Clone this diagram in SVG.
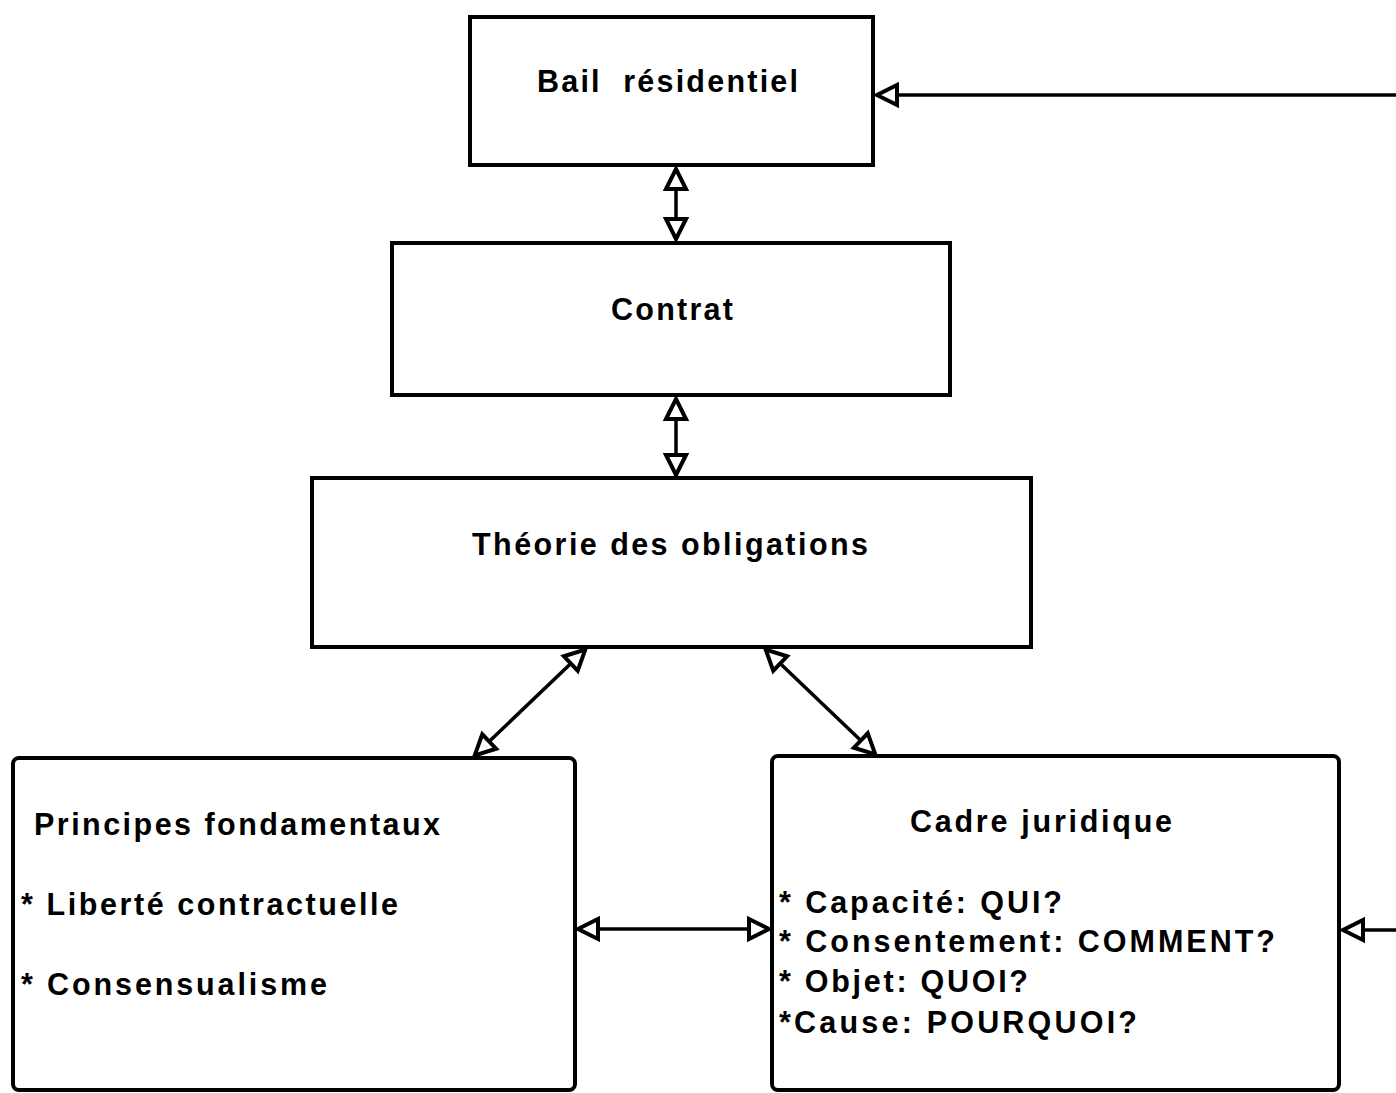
<svg xmlns="http://www.w3.org/2000/svg" width="1396" height="1093" viewBox="0 0 1396 1093">
  <style>
    .box { fill: #ffffff; stroke: #000000; stroke-width: 4; }
    .link { fill: none; stroke: #000000; stroke-width: 3.5; }
    .label { font-family: "Liberation Sans", Arial, sans-serif; font-weight: bold; font-size: 30.5px; fill: #000000; }
  </style>
  <defs>
    <!-- hollow triangular arrowhead; tip sits on the end of the line -->
    <marker id="hollow" viewBox="0 0 30 28" refX="26" refY="14" markerWidth="30" markerHeight="28" markerUnits="userSpaceOnUse" orient="auto-start-reverse" overflow="visible">
      <path d="M 5 4 L 25 14 L 5 24 Z" fill="#ffffff" stroke="#000000" stroke-width="4" stroke-linejoin="miter"/>
    </marker>
  </defs>

  <rect width="1396" height="1093" fill="#ffffff"/>

  <g id="connectors">
    <!-- incoming link on the right of the lease box -->
    <line class="link" x1="1400" y1="95" x2="876" y2="95" marker-end="url(#hollow)"/>
    <!-- lease <-> contract -->
    <line class="link" x1="676" y1="168" x2="676" y2="240" marker-start="url(#hollow)" marker-end="url(#hollow)"/>
    <!-- contract <-> theory -->
    <line class="link" x1="676" y1="398" x2="676" y2="476" marker-start="url(#hollow)" marker-end="url(#hollow)"/>
    <!-- theory <-> principles -->
    <line class="link" x1="586" y1="649" x2="474" y2="756" marker-start="url(#hollow)" marker-end="url(#hollow)"/>
    <!-- theory <-> legal framework -->
    <line class="link" x1="765" y1="649" x2="876" y2="755" marker-start="url(#hollow)" marker-end="url(#hollow)"/>
    <!-- principles <-> legal framework -->
    <line class="link" x1="577" y1="929" x2="770" y2="929" marker-start="url(#hollow)" marker-end="url(#hollow)"/>
    <!-- incoming link on the right of the legal framework box -->
    <line class="link" x1="1400" y1="930" x2="1342" y2="930" marker-end="url(#hollow)"/>
  </g>

  <g id="bail-residentiel">
    <rect class="box" x="470" y="17" width="403" height="148"/>
    <text class="label" x="537" y="92" textLength="261" lengthAdjust="spacing" xml:space="preserve">Bail  résidentiel</text>
  </g>

  <g id="contrat">
    <rect class="box" x="392" y="243" width="558" height="152"/>
    <text class="label" x="611" y="320" textLength="122" lengthAdjust="spacing">Contrat</text>
  </g>

  <g id="theorie-obligations">
    <rect class="box" x="312" y="478" width="719" height="169"/>
    <text class="label" x="472" y="555" textLength="396" lengthAdjust="spacing">Théorie des obligations</text>
  </g>

  <g id="principes-fondamentaux">
    <rect class="box" x="13" y="758" width="562" height="332" rx="6"/>
    <text class="label" x="34" y="835" textLength="406" lengthAdjust="spacing">Principes fondamentaux</text>
    <text class="label" x="21" y="915" textLength="377" lengthAdjust="spacing">* Liberté contractuelle</text>
    <text class="label" x="21" y="995" textLength="306" lengthAdjust="spacing">* Consensualisme</text>
  </g>

  <g id="cadre-juridique">
    <rect class="box" x="772" y="756" width="567" height="334" rx="6"/>
    <text class="label" x="910" y="832" textLength="262" lengthAdjust="spacing">Cadre juridique</text>
    <text class="label" x="779" y="913" textLength="283" lengthAdjust="spacing">* Capacité: QUI?</text>
    <text class="label" x="779" y="952" textLength="496" lengthAdjust="spacing">* Consentement: COMMENT?</text>
    <text class="label" x="779" y="992" textLength="249" lengthAdjust="spacing">* Objet: QUOI?</text>
    <text class="label" x="779" y="1033" textLength="358" lengthAdjust="spacing">*Cause: POURQUOI?</text>
  </g>
</svg>
